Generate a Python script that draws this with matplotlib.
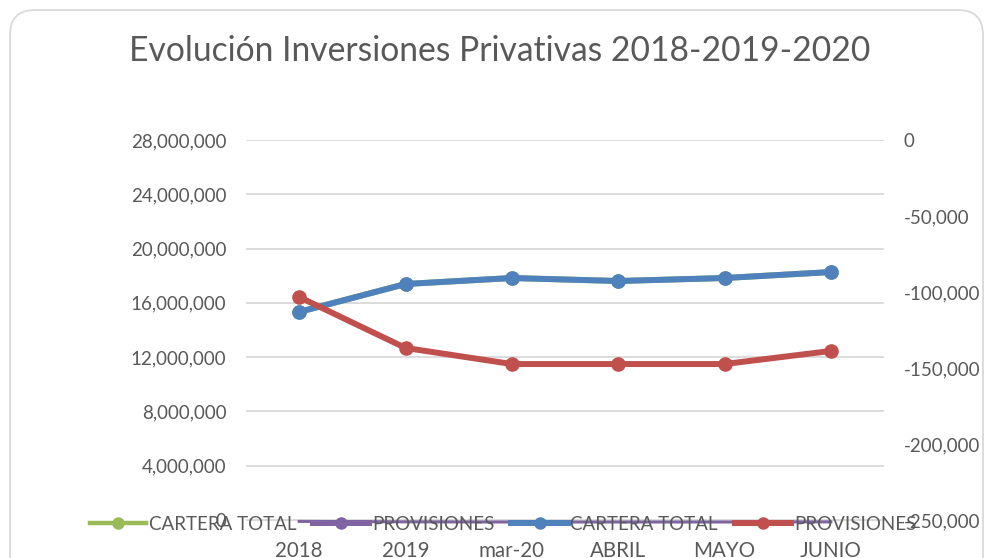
import matplotlib
matplotlib.use('Agg')
import matplotlib.pyplot as plt
from matplotlib.lines import Line2D
from matplotlib.patches import FancyBboxPatch
from matplotlib.ticker import FuncFormatter
from matplotlib.transforms import IdentityTransform

# -------- Data --------
categories = ['2018', '2019', 'mar-20', 'ABRIL', 'MAYO', 'JUNIO']
cartera_total = [15330000, 17390000, 17830000, 17610000, 17830000, 18270000]
provisiones = [-103300, -136800, -147400, -147400, -147400, -138800]
left_ticks = [0, 4000000, 8000000, 12000000, 16000000, 20000000, 24000000, 28000000]
right_ticks = [-250000, -200000, -150000, -100000, -50000, 0]

GREEN, PURPLE, BLUE, RED = '#9bbb59', '#8064a2', '#4f81bd', '#c0504d'
TEXT = '#595959'
GRID = '#d9d9d9'

plt.rcParams['font.family'] = ['Lato', 'DejaVu Sans']

fig = plt.figure(figsize=(9.84, 5.58), dpi=100)
ax = fig.add_axes([246 / 984, 1 - 520 / 558, (884 - 246) / 984, 380 / 558])
x = list(range(len(categories)))

# primary axis series (green sits under blue, purple lies on the floor)
ax.plot(x, cartera_total, color=GREEN, lw=4.3, marker='o', ms=9.5, zorder=2)
ax.plot(x, provisiones, color=PURPLE, lw=2.2, clip_on=False, zorder=3)
ax.plot(x, cartera_total, color=BLUE, lw=4.3, marker='o', ms=9.5, zorder=4)

ax.set_xlim(-0.5, len(categories) - 0.5)
ax.set_ylim(0, 28000000)
ax.set_yticks(left_ticks)
ax.set_xticks(x, categories)
ax.yaxis.set_major_formatter(FuncFormatter(lambda v, p: f'{v:,.0f}'))
ax.yaxis.grid(True, color=GRID, lw=1.3)
ax.set_axisbelow(True)
for s in ['top', 'left', 'right']:
    ax.spines[s].set_visible(False)
ax.spines['bottom'].set_color(GRID)
ax.tick_params(length=0, labelcolor=TEXT, labelsize=13.5)
ax.tick_params(axis='x', pad=15, labelsize=14.8)
ax.tick_params(axis='y', pad=14)

# secondary axis
ax2 = ax.twinx()
ax2.plot(x, provisiones, color=RED, lw=4.3, marker='o', ms=9.5, zorder=5)
ax2.set_ylim(-250000, 0)
ax2.set_yticks(right_ticks)
ax2.yaxis.set_major_formatter(FuncFormatter(lambda v, p: f'{v:,.0f}'))
for s in ax2.spines.values():
    s.set_visible(False)
ax2.tick_params(length=0, labelcolor=TEXT, labelsize=13.5, pad=14)

fig.text(500 / 984, 1 - 51 / 558, 'Evolución Inversiones Privativas 2018-2019-2020',
         ha='center', va='center', fontsize=24.2, color=TEXT)

handles = [
    Line2D([], [], color=GREEN, lw=3.2, marker='o', ms=8),
    Line2D([], [], color=PURPLE, lw=4.3, marker='o', ms=8),
    Line2D([], [], color=BLUE, lw=4.3, marker='o', ms=8),
    Line2D([], [], color=RED, lw=4.3, marker='o', ms=8),
]
labels = ['CARTERA TOTAL', 'PROVISIONES', 'CARTERA TOTAL', 'PROVISIONES']
fig.legend(handles, labels, loc='center', bbox_to_anchor=(503 / 984, 1 - 524 / 558),
           ncol=4, frameon=False, fontsize=13.5, handlelength=3, handletextpad=0.15,
           columnspacing=0.9, labelcolor=TEXT)

# rounded chart border
border = FancyBboxPatch((10, -30), 973, 578, boxstyle='round,pad=0,rounding_size=25',
                        transform=IdentityTransform(), fill=False, ec=GRID, lw=1.3)
fig.add_artist(border)

fig.savefig('out.png', dpi=100)
